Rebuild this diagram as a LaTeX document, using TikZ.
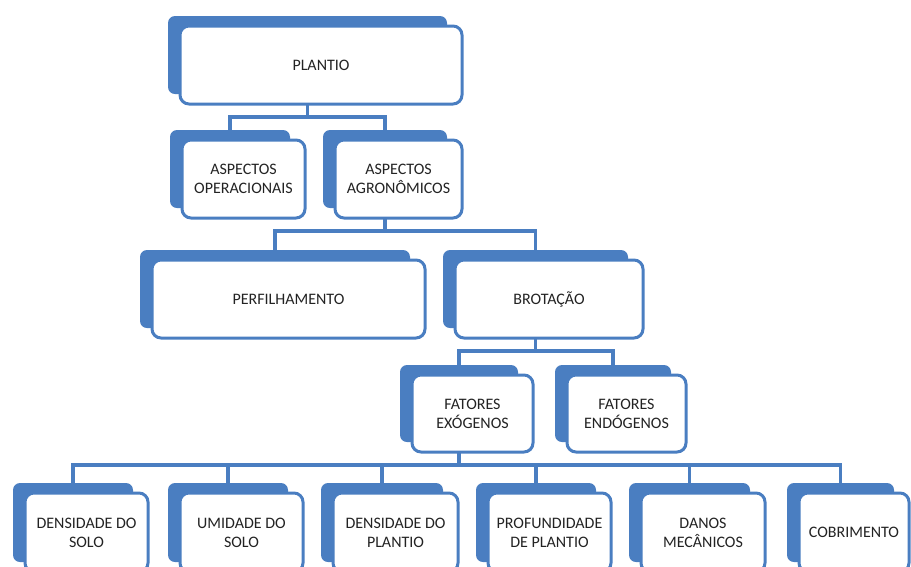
\documentclass[tikz,border=0pt]{standalone}
\usepackage{fontspec}
\setmainfont{Carlito}
\definecolor{smblue}{RGB}{74,126,193}
\definecolor{smtext}{RGB}{35,35,35}
\newcommand\smcard[6]{%
  \pgfmathsetmacro\smcw{#4-#2}%
  \pgfmathsetmacro\smch{#5-#3}%
  \node[backshape, minimum width=\smcw pt-3pt, minimum height=\smch pt] (#1-b) at ({(#2+#4)/2-13.5},{(#3+#5)/2-10}) {};
  \node[card, minimum width=\smcw pt, minimum height=\smch pt] (#1) at ({(#2+#4)/2},{(#3+#5)/2}) {#6};
}
\begin{document}
\begin{tikzpicture}[x=1pt,y=-1pt,
  backshape/.style={rectangle, fill=smblue, rounded corners=7pt, inner sep=0pt, outer sep=0pt},
  card/.style={rectangle, draw=smblue, line width=3pt, fill=white, rounded corners=9pt, inner sep=0pt, outer sep=0pt,
    text=smtext, font=\fontsize{16}{19}\selectfont, align=center},
  conn/.style={draw=smblue, line width=3.5pt}]
\useasboundingbox (0,0) rectangle (911,566);
\clip (0,0) rectangle (911,566);

\smcard{plantio}{180}{26}{462}{104}{PLANTIO}
\smcard{oper}{182}{140}{305}{218}{ASPECTOS\\OPERACIONAIS}
\smcard{agron}{335}{140}{462}{218}{ASPECTOS\\AGRONÔMICOS}
\smcard{perf}{152}{260}{425}{338}{PERFILHAMENTO}
\smcard{brot}{455}{260}{643}{338}{BROTAÇÃO}
\smcard{exo}{412}{375}{533}{452}{FATORES\\EXÓGENOS}
\smcard{endo}{567}{375}{686}{452}{FATORES\\ENDÓGENOS}
\smcard{ds}{25}{493}{148}{572}{DENSIDADE DO\\SOLO}
\smcard{um}{180}{493}{303}{572}{UMIDADE DO\\SOLO}
\smcard{dp}{333}{493}{458}{572}{DENSIDADE DO\\PLANTIO}
\smcard{pf}{488}{493}{611}{572}{PROFUNDIDADE\\DE PLANTIO}
\smcard{dm}{641}{493}{765}{572}{DANOS\\MECÂNICOS}
\smcard{cb}{799}{493}{909}{572}{COBRIMENTO}

\draw[conn] (plantio-b |- plantio.south) -- ++(0,13) -| (oper-b.north);
\draw[conn] (plantio-b |- plantio.south) -- ++(0,13) -| (agron-b.north);
\draw[conn] (agron-b |- agron.south) -- ++(0,13) -| (perf-b.north);
\draw[conn] (agron-b |- agron.south) -- ++(0,13) -| (brot-b.north);
\draw[conn] (brot-b |- brot.south) -- ++(0,13) -| (exo-b.north);
\draw[conn] (brot-b |- brot.south) -- ++(0,13) -| (endo-b.north);
\foreach \c in {ds,um,dp,pf,dm,cb}
  \draw[conn] (exo-b |- exo.south) -- ++(0,13) -| (\c-b.north);
\end{tikzpicture}
\end{document}
